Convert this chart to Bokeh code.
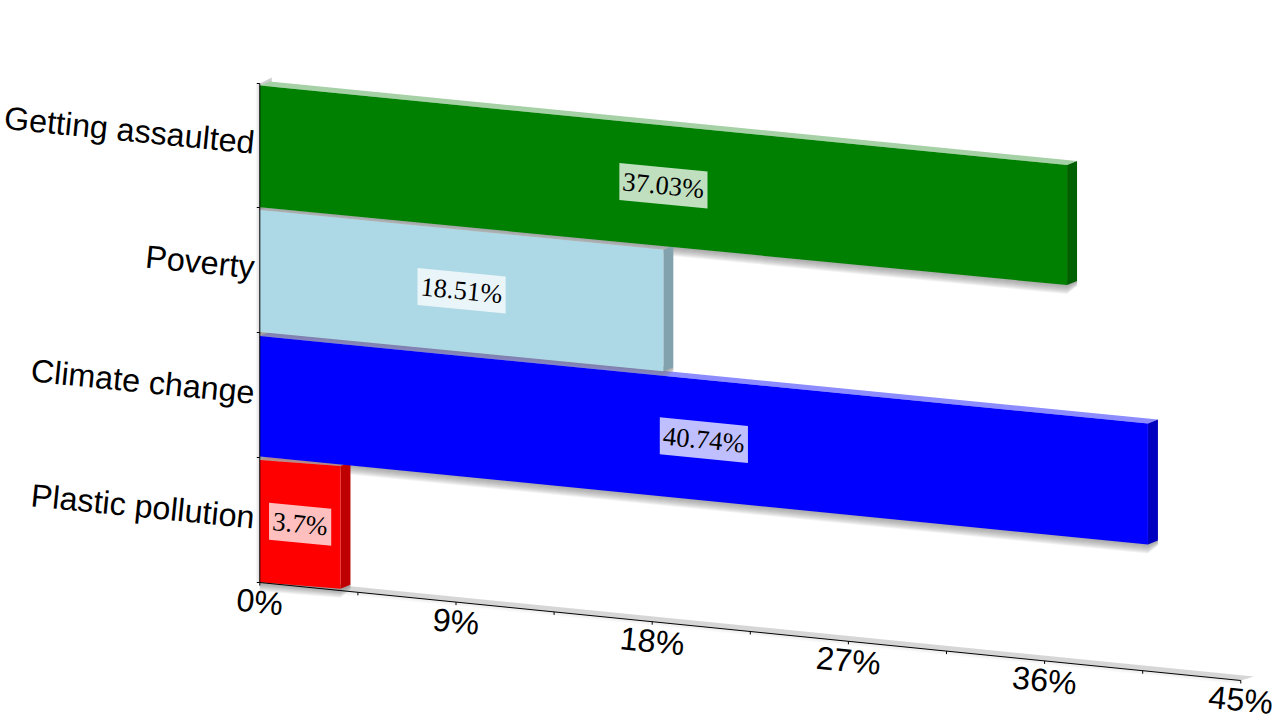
import math
from bokeh.plotting import figure
from bokeh.core.properties import value
from bokeh.embed import file_html
from bokeh.resources import INLINE

# data (drawn bottom-most first so that upper bars cast shadows on the lower ones)
categories = ["Plastic pollution", "Climate change", "Poverty", "Getting assaulted"]
shares = [3.7, 40.74, 18.51, 37.03]
share_labels = ["3.7%", "40.74%", "18.51%", "37.03%"]
front_colors = ["#ff0000", "#0000ff", "#add8e6", "#008000"]
side_colors = ["#bf0000", "#0000bf", "#82a2ad", "#006000"]
top_colors = ["#ffa0a0", "#8c8cff", "#e4eef2", "#a6d0a6"]
x_major = [0, 9, 18, 27, 36, 45]
x_minor = [4.5, 13.5, 22.5, 31.5, 40.5]

# oblique projection of the chart
X0, X_PER = 259.3, 21.8
SLOPE_AXIS = 0.0999
slope_top = [0.075, 0.0985, 0.0985, 0.0985]
slope_bottom = [0.081, 0.0991, 0.0970, 0.0965]
AXIS_Y0, AXIS_TOP = 582.0, 83.0
band_ticks = [83.0, 207.0, 332.0, 457.0, 582.0]
top_left = [459.5, 335.5, 209.5, 85.0]
bottom_left = [581.7, 456.0, 331.5, 206.7]
DX, DY = 10.0, -4.0


def px(v):
    return X0 + X_PER * v


def edge(y_left, v, slope):
    return y_left + X_PER * v * slope


p = figure(width=1280, height=720, x_range=(0, 1280), y_range=(720, 0),
           output_backend="svg", toolbar_location=None, min_border=0,
           background_fill_color="white", border_fill_color="white")
p.axis.visible = False
p.grid.visible = False
p.outline_line_color = None

# wall and floor
fx, fy = px(45), AXIS_Y0 + X_PER * 45 * SLOPE_AXIS
p.patch([X0, X0 + 12, X0 + 12, X0], [AXIS_TOP, AXIS_TOP - 6, AXIS_Y0, AXIS_Y0], color="#cfcfcf", line_width=0)
p.patch([X0, fx, fx + 13, X0 + 13], [AXIS_Y0, fy, fy - 4, AXIS_Y0 - 4], color="#d6d6d6", line_width=0)

# soft shadows beside the axes
for k in range(1, 5):
    p.patch([X0 - k, X0, X0, X0 - k], [AXIS_TOP, AXIS_TOP, AXIS_Y0, AXIS_Y0], color="black", alpha=0.035, line_width=0)
    p.patch([X0, fx, fx, X0], [AXIS_Y0, fy, fy + k, AXIS_Y0 + k], color="black", alpha=0.02, line_width=0)

# bars: corner positions of each bar
corners = []
for i, v in enumerate(shares):
    x1 = px(v)
    yt0, yb0 = top_left[i], bottom_left[i]
    corners.append((x1, yt0, yb0, edge(yt0, v, slope_top[i]), edge(yb0, v, slope_bottom[i])))

# top faces with the soft shadows that fall on them
for i, (x1, yt0, yb0, yt1, yb1) in enumerate(corners):
    p.patch([X0, x1, x1 + DX, X0 + DX], [yt0, yt1, yt1 + DY, yt0 + DY], color=top_colors[i], line_width=0)
    for k in range(1, 10):
        p.patch([X0, x1 + DX, x1 + DX, x1, X0],
                [yb0, yb1 + DY, yb1 + DY + k * 0.55, yb1 + k, yb0 + k],
                color="#808080", alpha=0.1, line_width=0)

# side faces, then front faces
for i, (x1, yt0, yb0, yt1, yb1) in enumerate(corners):
    p.patch([x1, x1 + DX, x1 + DX, x1], [yt1, yt1 + DY, yb1 + DY, yb1], color=side_colors[i], line_width=0)
for i, (x1, yt0, yb0, yt1, yb1) in enumerate(corners):
    p.patch([X0, x1, x1, X0], [yt0, yt1, yb1, yb0], color=front_colors[i], line_width=0)

# axes
p.line([X0, X0], [AXIS_TOP, AXIS_Y0], color="black", line_width=1)
p.line([X0, fx], [AXIS_Y0, fy], color="black", line_width=1)
p.segment([X0 - 3] * len(band_ticks), band_ticks, [X0] * len(band_ticks), band_ticks, color="black", line_width=1)
all_x = sorted(x_major + x_minor)
tx = [px(v) for v in all_x]
ty = [AXIS_Y0 + X_PER * v * SLOPE_AXIS for v in all_x]
p.segment(tx, ty, tx, [y + 3 for y in ty], color="black", line_width=1)

# category labels
ANGLE = -math.atan(0.1)
label_y = [(bottom_left[i] + top_left[i]) / 2 - 3.5 for i in range(len(categories))]
p.text([254] * len(categories), label_y, text=categories, angle=ANGLE,
       text_font=value("Liberation Sans"), text_font_size="32.3px", text_color="black",
       text_align="right", text_baseline="middle")

# value tick labels
p.text([px(v) for v in x_major], [AXIS_Y0 + X_PER * v * SLOPE_AXIS + 19.5 for v in x_major],
       text=[f"{v}%" for v in x_major], angle=ANGLE,
       text_font=value("Liberation Sans"), text_font_size="32.3px", text_color="black",
       text_align="center", text_baseline="middle")

# data labels
EM = {"%": 0.833, ".": 0.25}
for i, (v, s) in enumerate(zip(shares, share_labels)):
    w = sum(EM.get(c, 0.5) for c in s) * 26 + 8
    cx = px(v / 2)
    cy = (edge(top_left[i], v / 2, slope_top[i]) + edge(bottom_left[i], v / 2, slope_bottom[i])) / 2
    s_ = 0.097
    p.patch([cx - w / 2, cx + w / 2, cx + w / 2, cx - w / 2],
            [cy - 18.5 - w / 2 * s_, cy - 18.5 + w / 2 * s_, cy + 18.5 + w / 2 * s_, cy + 18.5 - w / 2 * s_],
            color="white", alpha=0.75, line_width=0)
    p.text([cx], [cy - 0.5], text=[s], angle=-math.atan(s_),
           text_font=value("Liberation Serif"), text_font_size="26.6px", text_color="black",
           text_align="center", text_baseline="middle")

open("out.html", "w").write(file_html(p, INLINE))
